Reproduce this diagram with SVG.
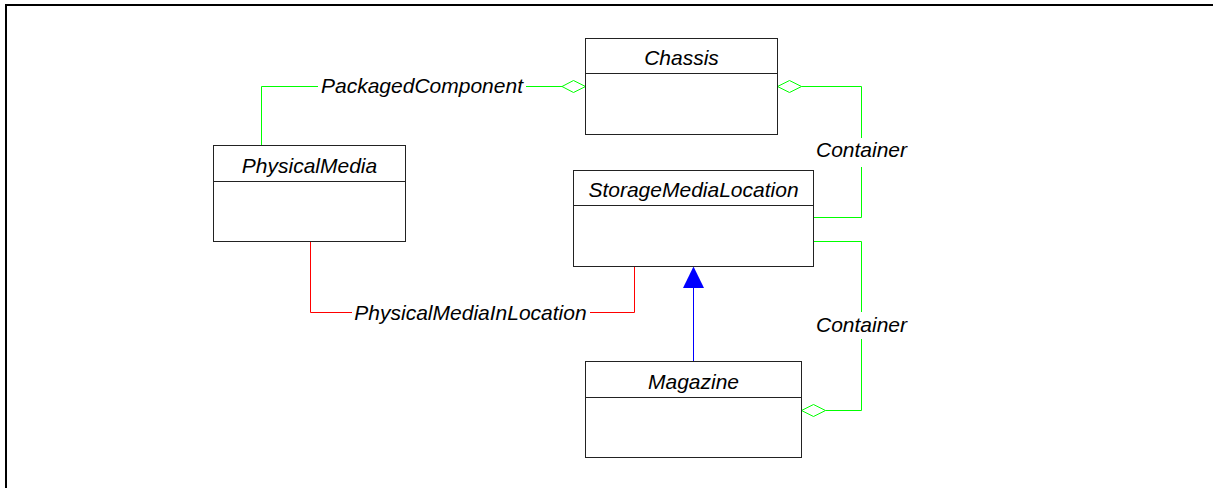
<svg xmlns="http://www.w3.org/2000/svg" width="1213" height="488" viewBox="0 0 1213 488">
<style>
.box{fill:#fff;stroke:#222;stroke-width:1}
.div{stroke:#222;stroke-width:1}
.t{font-family:"Liberation Sans",Arial,sans-serif;font-style:italic;font-size:21px;fill:#000;text-anchor:middle}
.g{fill:none;stroke:#00ff00;stroke-width:1}
.r{fill:none;stroke:#ff0000;stroke-width:1}
.gd{fill:#fff;stroke:#00ff00;stroke-width:1}
</style>
<rect width="1213" height="488" fill="#fff"/>
<path d="M6,488 V5 H1213" fill="none" stroke="#000" stroke-width="2"/>
<g id="connectors">
  <g id="packagedComponent">
    <polyline class="g" points="261.5,145.5 261.5,86.5 318,86.5"/>
    <line class="g" x1="526" y1="86.5" x2="562" y2="86.5"/>
    <polygon class="gd" points="562,86.5 573.5,80.5 585.5,86.5 573.5,92.5"/>
    <text class="t" x="422" y="93">PackagedComponent</text>
  </g>
  <g id="container1">
    <polygon class="gd" points="777.5,86.5 789.5,80.5 801.5,86.5 789.5,92.5"/>
    <polyline class="g" points="801.5,86.5 861.5,86.5 861.5,138"/>
    <polyline class="g" points="861.5,167 861.5,217.5 813.5,217.5"/>
    <text class="t" x="861.5" y="157">Container</text>
  </g>
  <g id="container2">
    <polyline class="g" points="813.5,241.5 861.5,241.5 861.5,312"/>
    <polyline class="g" points="861.5,339 861.5,410.5 825.5,410.5"/>
    <polygon class="gd" points="801.5,410.5 813.5,404.5 825.5,410.5 813.5,416.5"/>
    <text class="t" x="861.5" y="332">Container</text>
  </g>
  <g id="physicalMediaInLocation">
    <polyline class="r" points="310.5,241.5 310.5,312.5 352,312.5"/>
    <polyline class="r" points="590,312.5 634.5,312.5 634.5,266.5"/>
    <text class="t" x="470.5" y="320">PhysicalMediaInLocation</text>
  </g>
  <g id="generalization">
    <line x1="693.5" y1="361.5" x2="693.5" y2="288" stroke="#0000ff" stroke-width="1"/>
    <polygon points="693.5,266.5 704,288 683,288" fill="#0000ff"/>
  </g>
</g>
<g id="Chassis">
  <rect class="box" x="585.5" y="38.5" width="192" height="96"/>
  <line class="div" x1="585.5" y1="73.5" x2="777.5" y2="73.5"/>
  <text class="t" x="681.5" y="65">Chassis</text>
</g>
<g id="PhysicalMedia">
  <rect class="box" x="213.5" y="145.5" width="192" height="96"/>
  <line class="div" x1="213.5" y1="181.5" x2="405.5" y2="181.5"/>
  <text class="t" x="309.5" y="173">PhysicalMedia</text>
</g>
<g id="StorageMediaLocation">
  <rect class="box" x="573.5" y="170.5" width="240" height="96"/>
  <line class="div" x1="573.5" y1="205.5" x2="813.5" y2="205.5"/>
  <text class="t" x="693.5" y="197">StorageMediaLocation</text>
</g>
<g id="Magazine">
  <rect class="box" x="585.5" y="361.5" width="216" height="96"/>
  <line class="div" x1="585.5" y1="397.5" x2="801.5" y2="397.5"/>
  <text class="t" x="693.5" y="388.5">Magazine</text>
</g>
</svg>
